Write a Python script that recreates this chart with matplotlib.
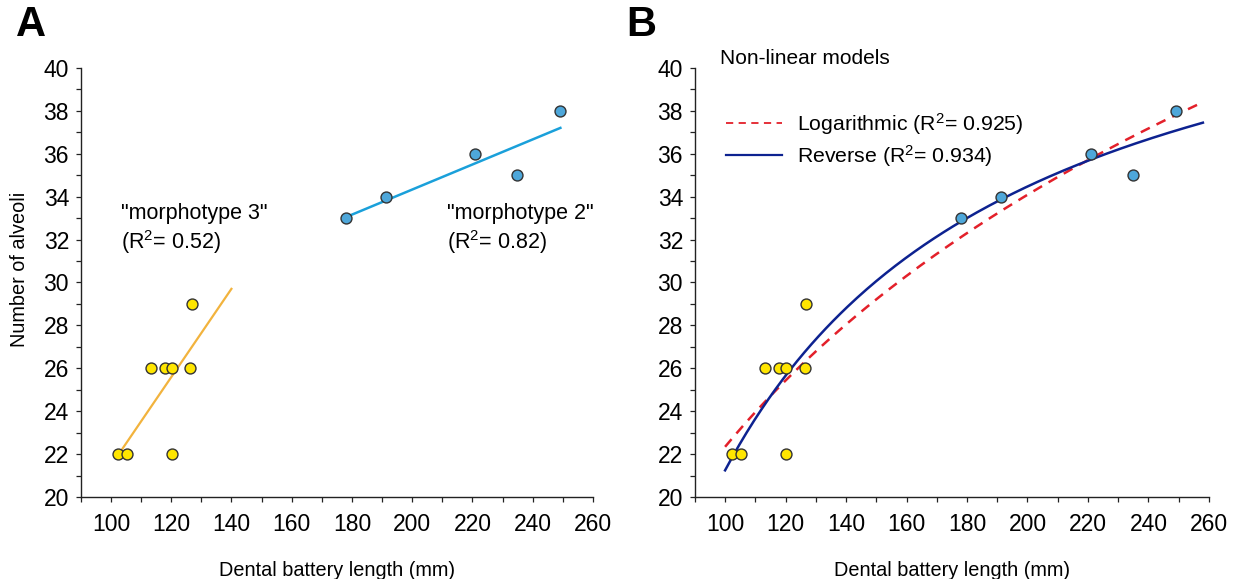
import matplotlib.pyplot as plt
import numpy as np
from matplotlib.ticker import MultipleLocator
from matplotlib.lines import Line2D

plt.rcParams['font.family'] = ['Liberation Sans', 'DejaVu Sans']
plt.rcParams['mathtext.fontset'] = 'custom'
plt.rcParams['mathtext.rm'] = 'Liberation Sans'
plt.rcParams['mathtext.it'] = 'Liberation Sans:italic'

# "morphotype 3" (yellow) and "morphotype 2" (blue) specimens
m3_length = [102.2, 105.4, 113.2, 117.9, 120.3, 120.3, 126.3, 126.9]
m3_alveoli = [22, 22, 26, 26, 26, 22, 26, 29]
m2_length = [178.0, 191.3, 220.9, 234.9, 249.2]
m2_alveoli = [33, 34, 36, 35, 38]

m3_fit_range = [103.3, 140]
m2_fit_range = [178.0, 249.2]
curve_range = [100, 258]

yellow = '#FFE600'
blue_pt = '#4EA7DA'
orange = '#F2B33D'
cyan = '#1AA0DA'
red = '#E3202A'
navy = '#0D2290'


def scatter_points(ax):
    ax.scatter(m3_length, m3_alveoli, s=62, c=yellow, edgecolors='#333333', linewidths=1.0, zorder=5)
    ax.scatter(m2_length, m2_alveoli, s=62, c=blue_pt, edgecolors='#333333', linewidths=1.0, zorder=5)


def style_axes(ax):
    ax.set_xlim(90, 260)
    ax.set_ylim(20, 40)
    ax.xaxis.set_major_locator(MultipleLocator(20))
    ax.xaxis.set_minor_locator(MultipleLocator(10))
    ax.yaxis.set_major_locator(MultipleLocator(2))
    ax.yaxis.set_minor_locator(MultipleLocator(1))
    ax.spines['top'].set_visible(False)
    ax.spines['right'].set_visible(False)
    for s in ['left', 'bottom']:
        ax.spines[s].set_linewidth(1.0)
        ax.spines[s].set_color('#222222')
    ax.tick_params(which='both', direction='out', length=3.5, width=0.9, color='#222222')
    ax.tick_params(which='major', labelsize=16.5)
    ax.tick_params(axis='x', which='major', pad=8)
    ax.tick_params(axis='y', which='major', pad=5)
    ax.set_xlabel('Dental battery length (mm)', fontsize=14.3, labelpad=18)


fig = plt.figure(figsize=(12.43, 5.79), dpi=100)
axA = fig.add_axes([0.065, 0.1416, 0.412, 0.741])
axB = fig.add_axes([0.559, 0.1416, 0.4136, 0.741])

# panel A: linear fits per morphotype
scatter_points(axA)
p3 = np.polyfit(m3_length, m3_alveoli, 1)
xs3 = np.array(m3_fit_range)
axA.plot(xs3, np.polyval(p3, xs3), color=orange, lw=1.6, zorder=3)
p2 = np.polyfit(m2_length, m2_alveoli, 1)
xs2 = np.array(m2_fit_range)
axA.plot(xs2, np.polyval(p2, xs2), color=cyan, lw=1.8, zorder=3)
style_axes(axA)
axA.set_ylabel('Number of alveoli', fontsize=14.3)
axA.yaxis.set_label_coords(-52 / 512, 0.53)
axA.text(103.3, 33.2, '"morphotype 3"', fontsize=15.5, va='center', ha='left')
axA.text(103.3, 31.9, '(R$^2$= 0.52)', fontsize=15.5, va='center', ha='left')
axA.text(211.5, 33.2, '"morphotype 2"', fontsize=15.5, va='center', ha='left')
axA.text(211.5, 31.9, '(R$^2$= 0.82)', fontsize=15.5, va='center', ha='left')

# panel B: non-linear models over all specimens
all_x = np.array(m3_length + m2_length)
all_y = np.array(m3_alveoli + m2_alveoli)
xs = np.linspace(curve_range[0], curve_range[1], 200)
plog = np.polyfit(np.log(all_x), all_y, 1)
pinv = np.polyfit(1.0 / all_x, all_y, 1)
scatter_points(axB)
axB.plot(xs, np.polyval(plog, np.log(xs)), color=red, lw=1.8, ls=(0, (4, 3)), zorder=3)
axB.plot(xs, np.polyval(pinv, 1.0 / xs), color=navy, lw=1.8, zorder=4)
style_axes(axB)

handles = [Line2D([], [], color=red, lw=1.3, ls=(0, (4, 3))),
           Line2D([], [], color=navy, lw=1.6)]
axB.legend(handles, ['Logarithmic (R$^2$= 0.925)', 'Reverse (R$^2$= 0.934)'],
           loc='upper left', bbox_to_anchor=(0.045, 0.92), frameon=False, fontsize=15.3,
           handlelength=2.6, handletextpad=0.7, labelspacing=0.3, borderaxespad=0)
fig.text(720 / 1243, 1 - 59 / 579, 'Non-linear models', fontsize=15, va='center', ha='left')

fig.text(16 / 1243, 1 - 25 / 579, 'A', fontsize=30, fontweight='bold', va='center', ha='left')
fig.text(626 / 1243, 1 - 25 / 579, 'B', fontsize=30, fontweight='bold', va='center', ha='left')

fig.savefig('out.png', dpi=100)
